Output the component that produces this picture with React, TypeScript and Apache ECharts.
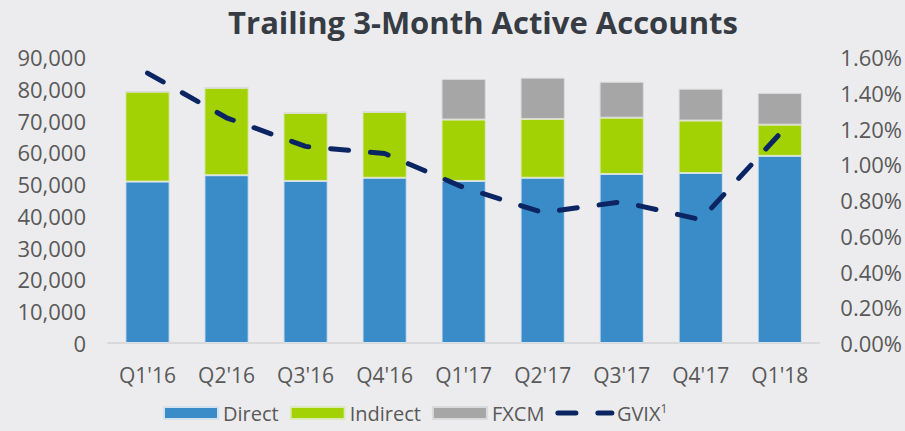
import React, { useEffect, useRef } from "react";
import * as echarts from "echarts";

const categories = ["Q1'16", "Q2'16", "Q3'16", "Q4'16", "Q1'17", "Q2'17", "Q3'17", "Q4'17", "Q1'18"];
const direct = [50800, 52800, 51000, 52000, 51000, 52000, 53200, 53500, 58900];
const indirect = [28300, 27500, 21400, 20700, 19300, 18500, 17700, 16500, 9800];
const fxcm = [0, 0, 0, 0, 12800, 13000, 11300, 10000, 10000];
const gvix = [1.51, 1.26, 1.1, 1.06, 0.87, 0.73, 0.79, 0.69, 1.17];
const leftTicks = [0, 10000, 20000, 30000, 40000, 50000, 60000, 70000, 80000, 90000];
const rightTicks = [0, 0.2, 0.4, 0.6, 0.8, 1.0, 1.2, 1.4, 1.6];

const FONT = "'Open Sans', sans-serif";
const LABEL = "#595959";
const NAVY = "#0B2462";

export default function App() {
  const ref = useRef<HTMLDivElement>(null);
  useEffect(() => {
    if (!ref.current) return;
    const chart = echarts.init(ref.current, null, { renderer: "svg" });
    chart.setOption({
      animation: false,
      backgroundColor: "#ECECEE",
      title: {
        text: "Trailing 3-Month Active Accounts",
        left: 478,
        textAlign: "center",
        top: 1,
        textStyle: { fontFamily: FONT, fontWeight: "bold", fontSize: 31, color: "#363B44" },
      },
      grid: { left: 108, right: 85, top: 57, bottom: 88, containLabel: false },
      legend: {
        bottom: 3,
        left: 158,
        itemWidth: 54,
        itemHeight: 12,
        itemGap: 11,
        textStyle: {
          fontFamily: FONT,
          fontSize: 20,
          color: LABEL,
          rich: { sup: { fontSize: 12, color: LABEL, fontFamily: FONT, verticalAlign: "top", padding: [0, 0, 10, 0] } },
        },
        formatter: (n: string) => (n === "GVIX" ? "GVIX{sup|1}" : n),
        data: [
          { name: "Direct", icon: "rect" },
          { name: "Indirect", icon: "rect" },
          { name: "FXCM", icon: "rect" },
          {
            name: "GVIX",
            itemStyle: { opacity: 0 },
            lineStyle: { color: NAVY, width: 5, type: [18, 22], cap: "round" },
          },
        ],
      },
      xAxis: {
        type: "category",
        data: categories,
        axisLine: { lineStyle: { color: "#D9D9D9", width: 2 } },
        axisTick: { show: false },
        axisLabel: { fontFamily: FONT, fontSize: 21, color: LABEL, margin: 21 },
      },
      yAxis: [
        {
          type: "value",
          min: leftTicks[0],
          max: leftTicks[leftTicks.length - 1],
          interval: 10000,
          splitLine: { show: false },
          axisLine: { show: false },
          axisTick: { show: false },
          axisLabel: {
            fontFamily: FONT,
            fontSize: 22,
            color: LABEL,
            margin: 22,
            formatter: (v: number) => v.toLocaleString("en-US"),
          },
        },
        {
          type: "value",
          min: rightTicks[0],
          max: rightTicks[rightTicks.length - 1],
          interval: 0.2,
          splitLine: { show: false },
          axisLine: { show: false },
          axisTick: { show: false },
          axisLabel: {
            fontFamily: FONT,
            fontSize: 22,
            color: LABEL,
            margin: 21,
            formatter: (v: number) => v.toFixed(2) + "%",
          },
        },
      ],
      series: [
        {
          name: "Direct",
          type: "bar",
          stack: "a",
          data: direct,
          barWidth: "56%",
          itemStyle: { color: "#398CC8", borderColor: "#D5E2EE", borderWidth: 1 },
        },
        {
          name: "Indirect",
          type: "bar",
          stack: "a",
          data: indirect,
          itemStyle: { color: "#A2D104", borderColor: "#DDE9B8", borderWidth: 1 },
        },
        {
          name: "FXCM",
          type: "bar",
          stack: "a",
          data: fxcm,
          itemStyle: { color: "#A6A6A6", borderColor: "#DADADA", borderWidth: 1 },
        },
        {
          name: "GVIX",
          type: "line",
          yAxisIndex: 1,
          data: gvix,
          symbol: "none",
          itemStyle: { color: NAVY },
          lineStyle: { color: NAVY, width: 5, type: [18, 22], cap: "round" },
        },
      ],
    });
    return () => chart.dispose();
  }, []);
  return <div ref={ref} style={{ position: "fixed", left: 0, top: 0, width: 905, height: 431 }} />;
}
